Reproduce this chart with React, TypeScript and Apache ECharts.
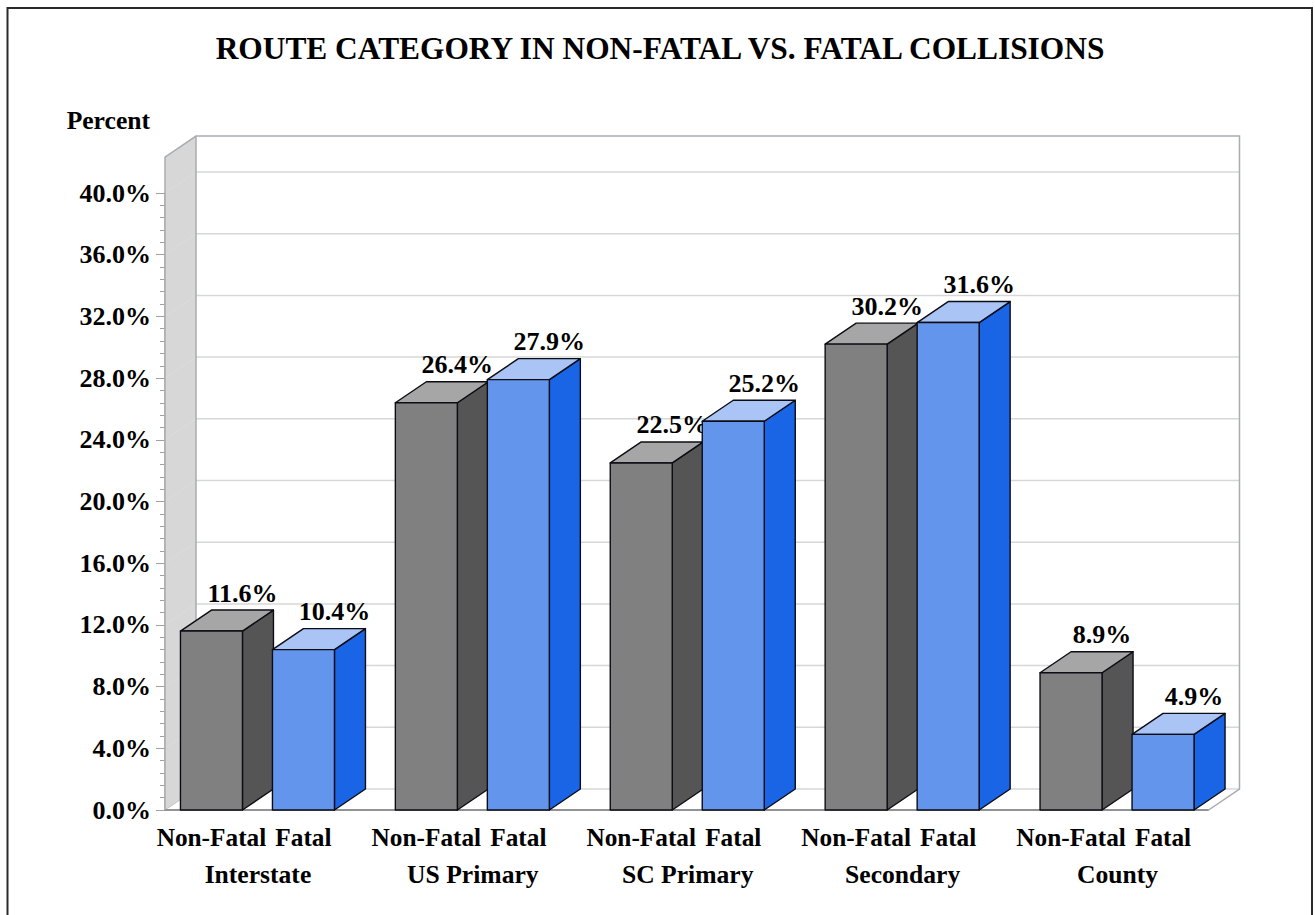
import React, { useEffect, useRef } from "react";
import * as echarts from "echarts";

const categories = ["Interstate", "US Primary", "SC Primary", "Secondary", "County"];
const nonFatalValues = [11.6, 26.4, 22.5, 30.2, 8.9];
const fatalValues = [10.4, 27.9, 25.2, 31.6, 4.9];
const barNames = ["Non-Fatal", "Fatal"];
const wallTicks = [0, 4, 8, 12, 16, 20, 24, 28, 32, 36, 40];
const wallTop = 42.33;

const DX = 31;
const DY = 21;
const FONT = '"Liberation Serif", "Times New Roman", serif';
const VALUE_FONT = `bold 26px ${FONT}`;
const NAME_FONT = `bold 25.3px ${FONT}`;
const WALL_EDGE = "#a9adb1";

const fmt = (v: number) => v.toFixed(1) + "%";

function wallItem(_: any, api: any) {
  const band = api.size([1, 0])[0];
  const left = api.coord([0, 0])[0] - band / 2;
  const right = api.coord([categories.length - 1, 0])[0] + band / 2;
  const y = (v: number) => api.coord([0, v])[1];
  const y0 = y(0);
  const yt = y(wallTop);
  const children: any[] = [
    {
      type: "polygon",
      shape: { points: [[left, yt], [left + DX, yt - DY], [left + DX, y0 - DY], [left, y0]] },
      style: { fill: "#d7d7d7", stroke: "none" },
    },
  ];
  wallTicks.forEach((v) => {
    children.push({
      type: "line",
      shape: { x1: left + DX, y1: y(v) - DY, x2: right, y2: y(v) - DY },
      style: { stroke: "#d6d8d8", lineWidth: 1.5 },
    });
    children.push({
      type: "line",
      shape: { x1: left, y1: y(v), x2: left + DX, y2: y(v) - DY },
      style: { stroke: "#dcdcdc", lineWidth: 1 },
    });
  });
  children.push({
    type: "polyline",
    shape: {
      points: [
        [left, y0],
        [left, yt],
        [left + DX, yt - DY],
        [right, yt - DY],
        [right, y0 - DY],
        [right - DX, y0],
        [left, y0],
      ],
    },
    style: { stroke: WALL_EDGE, lineWidth: 1.5, fill: "none" },
  });
  children.push({
    type: "line",
    shape: { x1: left + DX, y1: yt - DY, x2: left + DX, y2: y0 - DY },
    style: { stroke: WALL_EDGE, lineWidth: 1.5 },
  });
  children.push({
    type: "line",
    shape: { x1: left, y1: y0, x2: left + DX, y2: y0 - DY },
    style: { stroke: "#c8c8c8", lineWidth: 1 },
  });
  children.push({
    type: "line",
    shape: { x1: left, y1: y0, x2: right - DX, y2: y0 },
    style: { stroke: "#8f9498", lineWidth: 2 },
  });
  return { type: "group", children };
}

function barItem(offset: number, colors: string[], name: string) {
  return (_: any, api: any) => {
    const idx = api.value(0);
    const val = api.value(1);
    const [cx, top] = api.coord([idx, val]);
    const base = api.coord([idx, 0])[1];
    const x0 = cx + offset;
    const x1 = x0 + 62;
    const edge = { stroke: "#0c0c14", lineWidth: 1.4, lineJoin: "round" };
    return {
      type: "group",
      children: [
        {
          type: "polygon",
          shape: { points: [[x1, top], [x1 + DX, top - DY], [x1 + DX, base - DY], [x1, base]] },
          style: { fill: colors[1], ...edge },
        },
        {
          type: "polygon",
          shape: { points: [[x0, top], [x0 + DX, top - DY], [x1 + DX, top - DY], [x1, top]] },
          style: { fill: colors[2], ...edge },
        },
        {
          type: "rect",
          shape: { x: x0, y: top, width: 62, height: base - top },
          style: { fill: colors[0], ...edge },
        },
        {
          type: "text",
          style: {
            text: fmt(val),
            x: x0 + 31 + 31,
            y: top - 38,
            align: "center",
            verticalAlign: "middle",
            font: VALUE_FONT,
            fill: "#000",
          },
        },
        {
          type: "text",
          style: {
            text: name,
            x: x0 + 31,
            y: base + 27,
            align: "center",
            verticalAlign: "middle",
            font: NAME_FONT,
            fill: "#000",
          },
        },
      ],
    };
  };
}

export default function App() {
  const ref = useRef<HTMLDivElement>(null);
  useEffect(() => {
    const chart = echarts.init(ref.current!, null, { renderer: "svg" });
    chart.setOption({
      animation: false,
      backgroundColor: "#fff",
      title: {
        text: "ROUTE CATEGORY IN NON-FATAL VS. FATAL COLLISIONS",
        left: 655,
        top: 28,
        textAlign: "center",
        textStyle: { fontFamily: FONT, fontWeight: "bold", fontSize: 31.4, color: "#000" },
      },
      graphic: [
        {
          type: "rect",
          z: -10,
          silent: true,
          shape: { x: 7.5, y: 8, width: 1304.5, height: 1000 },
          style: { fill: "none", stroke: "#2a2a2a", lineWidth: 2 },
        },
      ],
      grid: { left: 165, top: 193, width: 1074.5, height: 617 },
      xAxis: {
        type: "category",
        data: categories,
        axisLine: { show: false },
        axisTick: { show: false },
        axisLabel: {
          interval: 0,
          margin: 51,
          padding: [0, 29, 0, 0],
          fontFamily: FONT,
          fontWeight: "bold",
          fontSize: 25.6,
          color: "#000",
        },
      },
      yAxis: {
        type: "value",
        min: 0,
        max: 40,
        interval: 4,
        name: "Percent",
        nameLocation: "end",
        nameGap: 60,
        nameTextStyle: {
          fontFamily: FONT,
          fontWeight: "bold",
          fontSize: 25.6,
          color: "#000",
          align: "right",
          padding: [0, 15, 0, 0],
        },
        splitLine: { show: false },
        axisLine: { show: true, lineStyle: { color: WALL_EDGE, width: 1.5 } },
        axisTick: { show: true, length: 9, lineStyle: { color: "#a0a0a0", width: 1 } },
        minorTick: { show: true, splitNumber: 5, length: 5, lineStyle: { color: "#a0a0a0", width: 1 } },
        axisLabel: {
          margin: 14,
          formatter: (v: number) => fmt(v),
          fontFamily: FONT,
          fontWeight: "bold",
          fontSize: 26,
          color: "#000",
        },
      },
      series: [
        {
          type: "custom",
          name: "Walls",
          silent: true,
          z: 1,
          renderItem: wallItem,
          data: [[0, 0]],
        },
        {
          type: "custom",
          name: barNames[0],
          silent: true,
          z: 3,
          renderItem: barItem(-92, ["#808080", "#555555", "#a6a6a6"], barNames[0]),
          data: nonFatalValues.map((v, i) => [i, v]),
        },
        {
          type: "custom",
          name: barNames[1],
          silent: true,
          z: 4,
          renderItem: barItem(0, ["#6495ed", "#1a64e6", "#a9c4f5"], barNames[1]),
          data: fatalValues.map((v, i) => [i, v]),
        },
      ],
    });
    return () => chart.dispose();
  }, []);
  return (
    <div
      ref={ref}
      style={{ position: "absolute", left: 0, top: 0, width: 1315, height: 915, background: "#fff" }}
    />
  );
}
